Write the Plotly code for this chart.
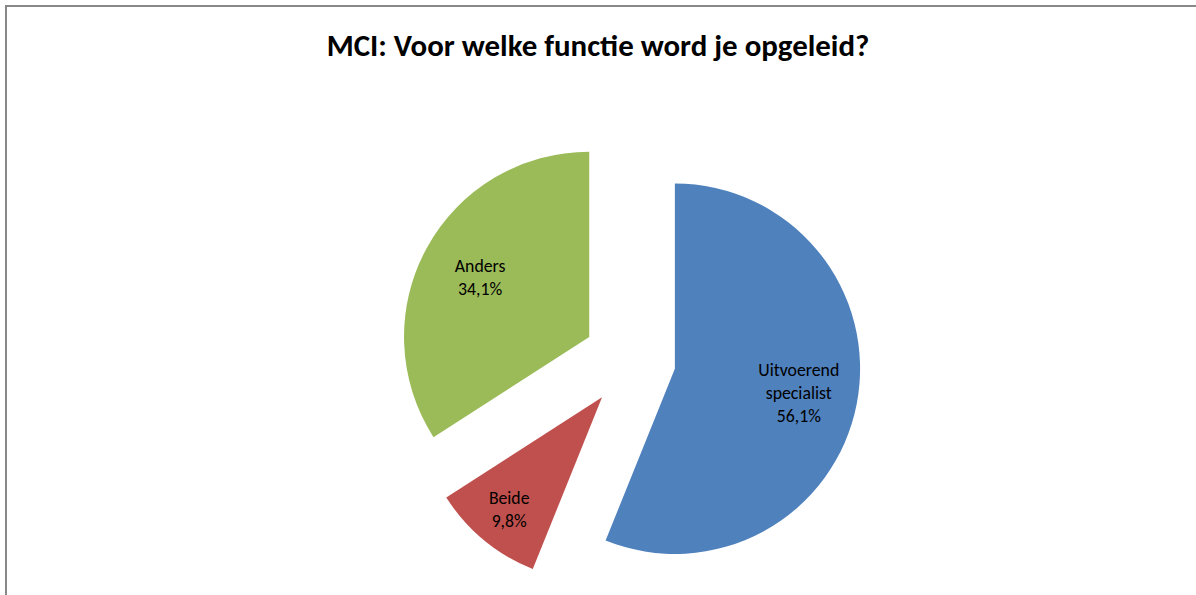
import plotly.graph_objects as go

labels = ["Uitvoerend specialist", "Beide", "Anders"]
values = [56.1, 9.8, 34.1]
text_labels = ["Uitvoerend<br>specialist<br>56,1%", "Beide<br>9,8%", "Anders<br>34,1%"]
colors = ["#4F81BD", "#C0504D", "#9BBB59"]
pulls = [0.233, 0.258, 0.266]
# label trace: same data, larger pull so the labels sit further out (as in the original)
label_pulls = [0.80, 0.717, 0.80]

W, H = 1196, 595
FONT = "Carlito, Lato, sans-serif"
DOMAIN = dict(x=[392.5 / W, 872.5 / W], y=[0, 1 - 126 / H])

fig = go.Figure()
fig.add_trace(go.Pie(
    labels=labels,
    values=values,
    textinfo="none",
    marker=dict(colors=colors, line=dict(width=0)),
    pull=pulls,
    sort=False,
    direction="clockwise",
    rotation=0,
    showlegend=False,
    domain=DOMAIN,
    hovertemplate="%{label}: %{value:.1f}%<extra></extra>",
))
fig.add_trace(go.Pie(
    labels=labels,
    values=values,
    text=text_labels,
    textinfo="text",
    textposition="inside",
    insidetextorientation="horizontal",
    insidetextfont=dict(color="black", size=17.8, family=FONT),
    marker=dict(colors=["rgba(0,0,0,0)"] * 3, line=dict(width=0)),
    pull=label_pulls,
    sort=False,
    direction="clockwise",
    rotation=0,
    showlegend=False,
    domain=DOMAIN,
    hoverinfo="skip",
))

fig.update_layout(
    width=W, height=H,
    margin=dict(l=0, r=0, t=0, b=0),
    paper_bgcolor="white",
    plot_bgcolor="white",
    separators=",.",
    title=dict(
        text="<b>MCI: Voor welke functie word je opgeleid?</b>",
        x=0.5, xanchor="center",
        y=1 - 45 / H, yanchor="middle",
        font=dict(size=30.9, color="black", family=FONT),
    ),
    shapes=[dict(
        type="rect", xref="paper", yref="paper",
        x0=6 / W, x1=1.02, y0=-0.02, y1=1 - 6 / H,
        line=dict(color="#888888", width=2),
        fillcolor="rgba(0,0,0,0)",
    )],
)

fig.write_html("out.html", config={"displayModeBar": False},
               post_script="document.body.style.margin='0';")
